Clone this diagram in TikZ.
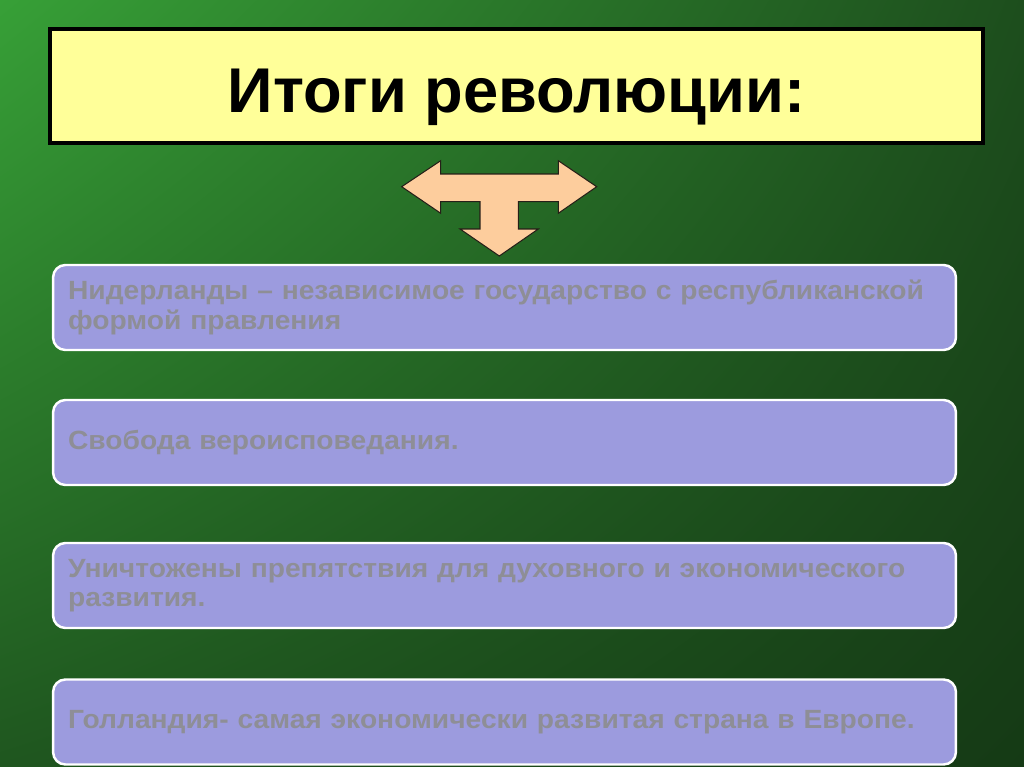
\documentclass[tikz,border=0pt]{standalone}
\usepackage{fontspec}
\setmainfont{Liberation Sans}
\newfontfamily\boxfont[FakeStretch=1.07]{Liberation Sans}
\usetikzlibrary{positioning, shadings}
\definecolor{bgTL}{HTML}{37A037}
\definecolor{bgTR}{HTML}{1D4E1D}
\definecolor{bgBL}{HTML}{1F561F}
\definecolor{bgBR}{HTML}{153A15}
\definecolor{titleF}{HTML}{FFFF99}
\definecolor{arrowF}{HTML}{FDCD9D}
\definecolor{boxF}{HTML}{9C9BDE}
\definecolor{boxT}{HTML}{8E8E96}
\tikzset{
  titlebox/.style={draw=black, line width=2pt, fill=titleF,
    minimum width=18.66cm, minimum height=2.28cm, inner sep=0pt,
    text height=30.6pt, text depth=0pt,
    font=\fontsize{36}{42}\selectfont\bfseries},
  resbox/.style={draw=white, line width=1.4pt, fill=boxF,
    rounded corners=7pt, minimum width=18.06cm, minimum height=1.7cm,
    text width=17.46cm, align=left, inner sep=0pt, text=boxT,
    font=\boxfont\fontsize{15}{16.6}\selectfont\bfseries},
  bigarrow/.style={draw=black!85!arrowF, line width=0.6pt, fill=arrowF,
    line join=miter},
}
\begin{document}
\begin{tikzpicture}[x=0.02cm, y=-0.02cm]

  % ---- Background --------------------------------------------------------
  \shade[upper left=bgTL, upper right=bgTR, lower left=bgBL, lower right=bgBR]
    (0,0) rectangle (1024,767);
  \useasboundingbox (0,0) rectangle (1024,767);

  % ---- Nodes -------------------------------------------------------------
  \node[titlebox] (title) at (516.5,86) {Итоги революции:};

  \node[resbox] (res1) at (504.5,307.5)
    {Нидерланды – независимое государство с республиканской\\формой правления};
  \node[resbox] (res2) at (504.5,442.5) {Свобода вероисповедания.};
  \node[resbox] (res3) at (504.5,585.5)
    {Уничтожены препятствия для духовного и экономического\\развития.};
  \node[resbox] (res4) at (504.5,722) {Голландия- самая экономически развитая страна в Европе.};

  % ---- Arrow -------------------------------------------------------------
  \draw[bigarrow] (401.7,186.7) -- (440.7,160.7) -- (440.7,174)
    -- (558.3,174) -- (558.3,160.7) -- (596.7,186.7) -- (558.3,213.3)
    -- (558.3,201.7) -- (518.3,201.7) -- (518.3,229) -- (538.3,229)
    -- (499.3,256) -- (460,229) -- (480,229) -- (480,201.7)
    -- (440.7,201.7) -- (440.7,213.3) -- cycle;

\end{tikzpicture}
\end{document}
